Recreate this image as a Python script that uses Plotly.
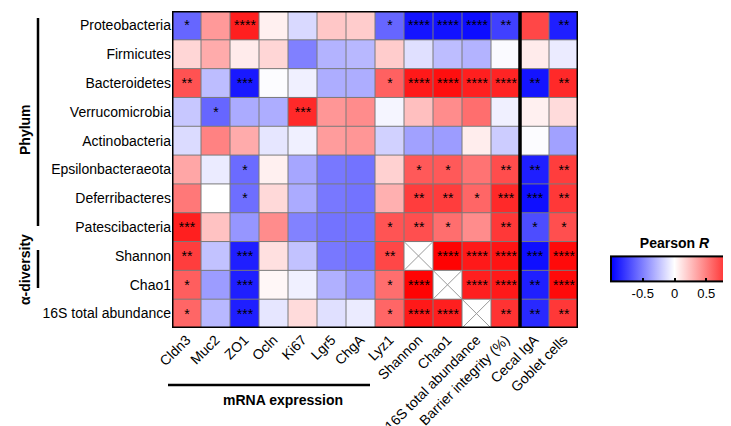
import plotly.graph_objects as go

rows = ["Proteobacteria", "Firmicutes", "Bacteroidetes", "Verrucomicrobia", "Actinobacteria",
        "Epsilonbacteraeota", "Deferribacteres", "Patescibacteria", "Shannon", "Chao1",
        "16S total abundance"]
cols = ["Cldn3", "Muc2", "ZO1", "Ocln", "Ki67", "Lgr5", "ChgA", "Lyz1", "Shannon", "Chao1",
        "16S total abundance", "Barrier integrity (%)", "Cecal IgA", "Goblet cells"]

r_values = [
    [-0.60, 0.40, 0.88, 0.06, -0.15, 0.22, 0.20, -0.60, -0.92, -0.93, -0.95, -0.75, 0.72, -0.88],
    [0.16, 0.33, 0.08, 0.16, -0.50, -0.30, -0.28, 0.20, -0.12, -0.26, -0.30, -0.02, 0.08, -0.08],
    [0.68, -0.26, -0.90, -0.01, -0.06, -0.32, -0.32, 0.62, 0.90, 0.94, 0.88, 0.86, -0.92, 0.84],
    [-0.22, -0.60, -0.33, -0.32, 0.84, 0.41, 0.45, -0.04, 0.25, 0.45, 0.57, -0.06, 0.06, 0.14],
    [-0.14, 0.49, 0.33, -0.10, -0.06, 0.39, 0.41, -0.18, -0.37, -0.39, 0.07, -0.20, -0.01, -0.37],
    [0.35, -0.08, -0.58, 0.06, -0.35, -0.53, -0.55, 0.18, 0.65, 0.65, 0.55, 0.70, -0.88, 0.76],
    [0.53, 0.00, -0.57, 0.15, -0.33, -0.53, -0.55, 0.31, 0.76, 0.76, 0.60, 0.84, -0.94, 0.78],
    [0.88, 0.24, -0.41, 0.45, -0.49, -0.55, -0.55, 0.67, 0.69, 0.57, 0.45, 0.78, -0.70, 0.69],
    [0.76, -0.24, -0.88, 0.12, -0.24, -0.53, -0.55, 0.72, None, 0.99, 0.90, 0.92, -0.94, 0.96],
    [0.63, -0.39, -0.88, 0.03, -0.06, -0.31, -0.41, 0.57, 0.99, None, 0.88, 0.90, -0.88, 0.96],
    [0.60, -0.28, -0.88, -0.10, 0.14, -0.12, -0.08, 0.60, 0.90, 0.88, None, 0.80, -0.84, 0.78],
]

stars = [
    ["*", "", "****", "", "", "", "", "*", "****", "****", "****", "**", "", "**"],
    ["", "", "", "", "", "", "", "", "", "", "", "", "", ""],
    ["**", "", "***", "", "", "", "", "*", "****", "****", "****", "****", "**", "**"],
    ["", "*", "", "", "***", "", "", "", "", "", "", "", "", ""],
    ["", "", "", "", "", "", "", "", "", "", "", "", "", ""],
    ["", "", "*", "", "", "", "", "", "*", "*", "", "**", "**", "**"],
    ["", "", "*", "", "", "", "", "", "**", "**", "*", "***", "***", "**"],
    ["***", "", "", "", "", "", "", "*", "**", "*", "", "**", "*", "*"],
    ["**", "", "***", "", "", "", "", "**", "", "****", "****", "****", "***", "****"],
    ["*", "", "***", "", "", "", "", "*", "****", "", "****", "****", "**", "****"],
    ["*", "", "***", "", "", "", "", "*", "****", "****", "", "**", "**", "**"],
]

cbar_ticks = [-0.5, 0, 0.5]
cbar_ticktext = ["-0.5", "0", "0.5"]
n_left_block = 12  # columns in the first boxed block

FONT = "Arial, Liberation Sans, sans-serif"
W, H = 731, 426
ML, MR, MT, MB = 164, 161, 3, 106
PW, PH = W - ML - MR, H - MT - MB

def px_x(px):
    return (px - ML) / PW

def px_y(py):
    return (H - MB - py) / PH

nr, nc = len(rows), len(cols)

# colorbar box (pixels)
CB_X0, CB_LEN, CB_TOP = 603, 127, 257.5

fig = go.Figure(go.Heatmap(
    z=r_values,
    x=list(range(nc)),
    y=list(range(nr)),
    text=stars,
    texttemplate="%{text}",
    textfont=dict(family=FONT, size=14, color="black"),
    zmin=-1, zmax=1,
    colorscale=[[0, "rgb(0,0,255)"], [0.5, "rgb(255,255,255)"], [1, "rgb(255,0,0)"]],
    hoverongaps=False,
    colorbar=dict(
        orientation="h",
        x=px_x(CB_X0), xanchor="left",
        y=px_y(299), yanchor="bottom",
        lenmode="pixels", len=CB_LEN,
        thickness=25, thicknessmode="pixels",
        outlinewidth=2, outlinecolor="black",
        xpad=0, ypad=0,
        tickmode="array", tickvals=cbar_ticks, ticktext=cbar_ticktext,
        ticks="inside", ticklen=4, tickcolor="black", tickwidth=1.5,
        tickfont=dict(family=FONT, size=13, color="black"),
        title=dict(text="<b>Pearson <i>R</i></b>", side="top",
                   font=dict(family=FONT, size=14, color="black")),
    ),
))

shapes = []
# cell grid lines
for k in range(nc + 1):
    shapes.append(dict(type="line", xref="x", yref="y", x0=k - 0.5, x1=k - 0.5,
                       y0=-0.5, y1=nr - 0.5, line=dict(color="#7a7a7a", width=1)))
for r in range(nr + 1):
    shapes.append(dict(type="line", xref="x", yref="y", x0=-0.5, x1=nc - 0.5,
                       y0=r - 0.5, y1=r - 0.5, line=dict(color="#7a7a7a", width=1)))
# crosses on empty cells
for r in range(nr):
    for c in range(nc):
        if r_values[r][c] is None:
            shapes.append(dict(type="line", xref="x", yref="y", x0=c - 0.5, x1=c + 0.5,
                               y0=r - 0.5, y1=r + 0.5, line=dict(color="#9a9a9a", width=1)))
            shapes.append(dict(type="line", xref="x", yref="y", x0=c - 0.5, x1=c + 0.5,
                               y0=r + 0.5, y1=r - 0.5, line=dict(color="#9a9a9a", width=1)))
# thick block borders
shapes.append(dict(type="rect", xref="x", yref="y", x0=-0.5, x1=n_left_block - 0.5,
                   y0=-0.5, y1=nr - 0.5, line=dict(color="black", width=3)))
shapes.append(dict(type="rect", xref="x", yref="y", x0=n_left_block - 0.5, x1=nc - 0.5,
                   y0=-0.5, y1=nr - 0.5, line=dict(color="black", width=3)))
# group bracket lines
shapes.append(dict(type="line", xref="paper", yref="paper", x0=px_x(30), x1=px_x(30),
                   y0=px_y(10), y1=px_y(218), line=dict(color="black", width=2.5)))
shapes.append(dict(type="line", xref="paper", yref="paper", x0=px_x(30), x1=px_x(30),
                   y0=px_y(242), y1=px_y(280), line=dict(color="black", width=2.5)))
shapes.append(dict(type="line", xref="paper", yref="paper", x0=px_x(160), x1=px_x(362),
                   y0=px_y(377), y1=px_y(377), line=dict(color="black", width=2.5)))
# tick marks on the top edge of the colour bar
for v in cbar_ticks:
    tx = CB_X0 + (v + 1) / 2 * CB_LEN
    shapes.append(dict(type="line", xref="paper", yref="paper", x0=px_x(tx), x1=px_x(tx),
                       y0=px_y(CB_TOP), y1=px_y(CB_TOP + 4), line=dict(color="black", width=1.5)))

annotations = [
    dict(text="<b>Phylum</b>", textangle=-90, xref="paper", yref="paper",
         x=px_x(17), y=px_y(122), xanchor="center", yanchor="middle", showarrow=False,
         font=dict(family=FONT, size=14, color="black")),
    dict(text="<b>α-diversity</b>", textangle=-90, xref="paper", yref="paper",
         x=px_x(17), y=px_y(262), xanchor="center", yanchor="middle", showarrow=False,
         font=dict(family=FONT, size=14, color="black")),
    dict(text="<b>mRNA expression</b>", xref="paper", yref="paper",
         x=px_x(275), y=px_y(392), xanchor="center", yanchor="middle", showarrow=False,
         font=dict(family=FONT, size=14, color="black")),
]

fig.update_layout(
    width=W, height=H,
    margin=dict(l=ML, r=MR, t=MT, b=MB, autoexpand=False),
    plot_bgcolor="white", paper_bgcolor="white",
    shapes=shapes, annotations=annotations,
    font=dict(family=FONT, size=14, color="black"),
    xaxis=dict(tickmode="array", tickvals=list(range(nc)), ticktext=cols,
               tickangle=-45, range=[-0.5, nc - 0.5], showgrid=False, zeroline=False,
               ticks="", automargin=False, tickfont=dict(family=FONT, size=14, color="black")),
    yaxis=dict(tickmode="array", tickvals=list(range(nr)), ticktext=rows,
               range=[nr - 0.5, -0.5], showgrid=False, zeroline=False,
               ticks="", automargin=False, tickfont=dict(family=FONT, size=14, color="black")),
)

fig.write_html("out.html")
